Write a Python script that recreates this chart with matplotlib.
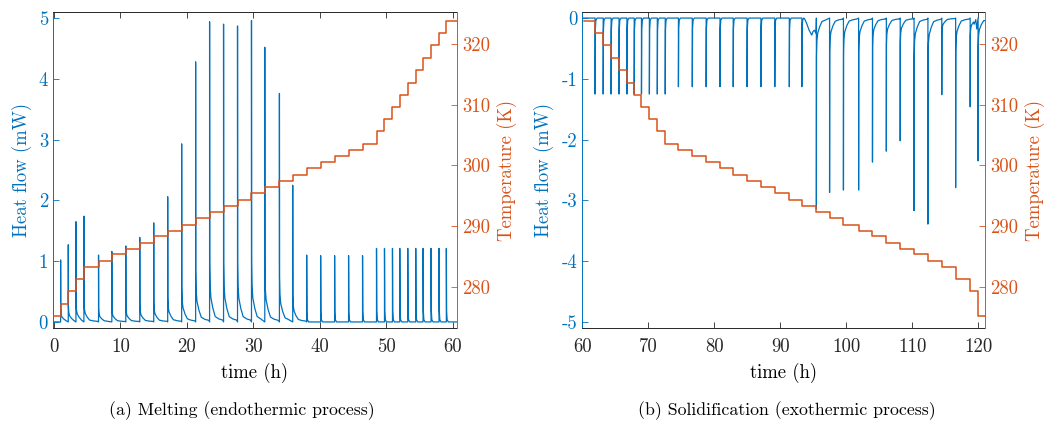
import matplotlib
matplotlib.use('Agg')
import matplotlib.pyplot as plt

# ---- melting run (a) ----
melt_step_t = [1.0, 2.15, 3.3, 4.5, 6.7, 8.7, 10.8, 12.9, 15.0, 17.1, 19.2, 21.3,
               23.4, 25.5, 27.6, 29.7, 31.7, 33.9, 35.9, 38.0, 40.1, 42.2, 44.3,
               46.4, 48.5, 49.7, 50.9, 52.0, 53.2, 54.4, 55.5, 56.7, 57.9, 59.0]
melt_peak = [1.02, 1.27, 1.65, 1.74, 1.10, 1.16, 1.25, 1.39, 1.63, 2.06, 2.93, 4.28,
             4.94, 4.90, 4.87, 4.96, 4.52, 3.76, 2.25, 1.10, 1.09, 1.09, 1.09,
             1.09, 1.21, 1.21, 1.21, 1.21, 1.21, 1.21, 1.21, 1.21, 1.21, 1.21]
melt_latent = [True] * 19 + [False] * 15
melt_T = [275.2, 277.3, 279.3, 281.3, 283.3, 284.3, 285.4, 286.3, 287.3, 288.4,
          289.3, 290.3, 291.4, 292.4, 293.4, 294.4, 295.5, 296.4, 297.5, 298.5,
          299.5, 300.5, 301.5, 302.5, 303.6, 305.6, 307.6, 309.6, 311.6, 313.6,
          315.6, 317.7, 319.7, 321.7, 323.7]

# ---- solidification run (b) ----
solid_step_t = [61.97, 63.2, 64.4, 65.6, 66.8, 67.9, 69.0, 70.2, 71.4, 72.6,
                74.6, 76.7, 78.8, 80.9, 82.9, 85.0, 87.1, 89.2, 91.4, 93.3,
                95.5, 97.5, 99.6, 101.9, 104.0, 106.1, 108.2, 110.3, 112.4,
                114.5, 116.6, 118.8, 120.0]
solid_peak = [-1.25] * 10 + [-1.13] * 10 + [-3.14, -2.87, -2.83, -2.83, -2.37,
              -2.19, -2.02, -3.17, -3.39, -1.26, -2.79, -1.46, -2.35]
solid_latent = [False] * 20 + [True] * 13
solid_T = [323.7, 321.7, 319.7, 317.7, 315.6, 313.6, 311.6, 309.6, 307.6, 305.6,
           303.6, 302.5, 301.5, 300.5, 299.5, 298.5, 297.5, 296.4, 295.5, 294.4,
           293.4, 292.4, 291.4, 290.3, 289.3, 288.4, 287.3, 286.3, 285.4, 284.3,
           283.3, 281.3, 279.3, 275.2]
# slow dip before the first solidification peak and kink near the end
solid_extra_t = [93.7, 94.0, 94.4, 94.8, 95.0, 95.2, 95.45, 119.4, 119.8]
solid_extra_q = [-0.01, -0.08, -0.2, -0.28, -0.22, -0.2, -0.25, -0.1, -0.18]

# read-off tail shapes (fraction of peak vs hours after the peak)
latent_dt = [0.02, 0.08, 0.2, 0.5, 0.85, 1.4, 2.0]
latent_frac = [0.2, 0.12, 0.08, 0.045, 0.018, 0.01, 0.006]
sharp_dt = [0.04, 0.12, 0.3]
sharp_frac = [0.15, 0.03, 0.0]

BLUE = '#0072BD'
ORANGE = '#D95319'
GREY = '#262626'

plt.rcParams['font.family'] = ['cmr10', 'DejaVu Serif']
plt.rcParams['axes.unicode_minus'] = False
plt.rcParams['font.size'] = 13.5


def heat_curve(step_t, peak, latent, t0, t1, extra_t=(), extra_q=()):
    pts = [(t0, 0.0)]
    for i, (ts, p) in enumerate(zip(step_t, peak)):
        t_next = step_t[i + 1] if i + 1 < len(step_t) else t1
        dts, fr = (latent_dt, latent_frac) if latent[i] else (sharp_dt, sharp_frac)
        pts.append((ts, 0.0))
        pts.append((ts, p))
        for d, f in zip(dts, fr):
            if ts + d < t_next - 0.02:
                pts.append((ts + d, p * f))
    pts += list(zip(extra_t, extra_q))
    pts.sort(key=lambda v: v[0])
    pts.append((t1, pts[-1][1]))
    return [v[0] for v in pts], [v[1] for v in pts]


def temp_curve(step_t, temps, t0, t1):
    t = [t0] + list(step_t) + [t1]
    return t, list(temps) + [temps[-1]]


def style(ax, ax2):
    ax.spines['left'].set_color(BLUE)
    ax.spines['right'].set_visible(False)
    ax.spines['top'].set_color(GREY)
    ax.spines['bottom'].set_color(GREY)
    ax2.spines['right'].set_color(ORANGE)
    ax2.spines['left'].set_visible(False)
    ax2.spines['top'].set_visible(False)
    ax2.spines['bottom'].set_visible(False)
    ax.tick_params(axis='x', direction='in', top=True, colors=GREY, length=4,
                   width=0.6, pad=7)
    ax.tick_params(axis='y', direction='in', colors=BLUE, length=4, width=0.6,
                   right=False)
    ax2.tick_params(axis='y', direction='in', colors=ORANGE, length=4, width=0.6)
    ax.yaxis.label.set_color(BLUE)
    ax2.yaxis.label.set_color(ORANGE)
    for sp in ax.spines.values():
        sp.set_linewidth(0.7)
    ax2.spines['right'].set_linewidth(0.7)


fig = plt.figure(figsize=(10.45, 4.22), dpi=100)

# (a) melting
ax = fig.add_axes([0.0507, 0.2227, 0.3866, 0.7489])
ax2 = ax.twinx()
t, q = heat_curve(melt_step_t, melt_peak, melt_latent, 0.0, 60.6)
ax.plot(t, q, color=BLUE, lw=0.9)
tt, T = temp_curve(melt_step_t, melt_T, 0.0, 60.6)
ax2.step(tt, T, where='post', color=ORANGE, lw=1.1)
ax.set_xlim(-0.15, 60.6)
ax.set_ylim(-0.1, 5.1)
ax2.set_ylim(273.3, 325.2)
ax.set_xticks(range(0, 61, 10))
ax.set_yticks(range(0, 6))
ax2.set_yticks(range(280, 321, 10))
ax.set_xlabel('time (h)', labelpad=5)
ax.set_ylabel('Heat flow (mW)', labelpad=5)
ax2.set_ylabel('Temperature (K)', labelpad=5)
style(ax, ax2)

# (b) solidification
bx = fig.add_axes([0.557, 0.2227, 0.3856, 0.7489])
bx2 = bx.twinx()
t, q = heat_curve(solid_step_t, solid_peak, solid_latent, 60.0, 121.05,
                  solid_extra_t, solid_extra_q)
bx.plot(t, q, color=BLUE, lw=0.9)
tt, T = temp_curve(solid_step_t, solid_T, 60.3, 121.05)
bx2.step(tt, T, where='post', color=ORANGE, lw=1.1)
bx.set_xlim(60, 121.05)
bx.set_ylim(-5.1, 0.1)
bx2.set_ylim(273.3, 325.2)
bx.set_xticks(range(60, 121, 10))
bx.set_yticks(range(-5, 1))
bx2.set_yticks(range(280, 321, 10))
bx.set_xlabel('time (h)', labelpad=5)
bx.set_ylabel('Heat flow (mW)', labelpad=5)
bx2.set_ylabel('Temperature (K)', labelpad=5)
style(bx, bx2)

fig.text(0.231, 0.016, '(a) Melting (endothermic process)', ha='center', fontsize=12.8)
fig.text(0.753, 0.016, '(b) Solidification (exothermic process)', ha='center', fontsize=12.8)

fig.savefig('out.png', dpi=100)
